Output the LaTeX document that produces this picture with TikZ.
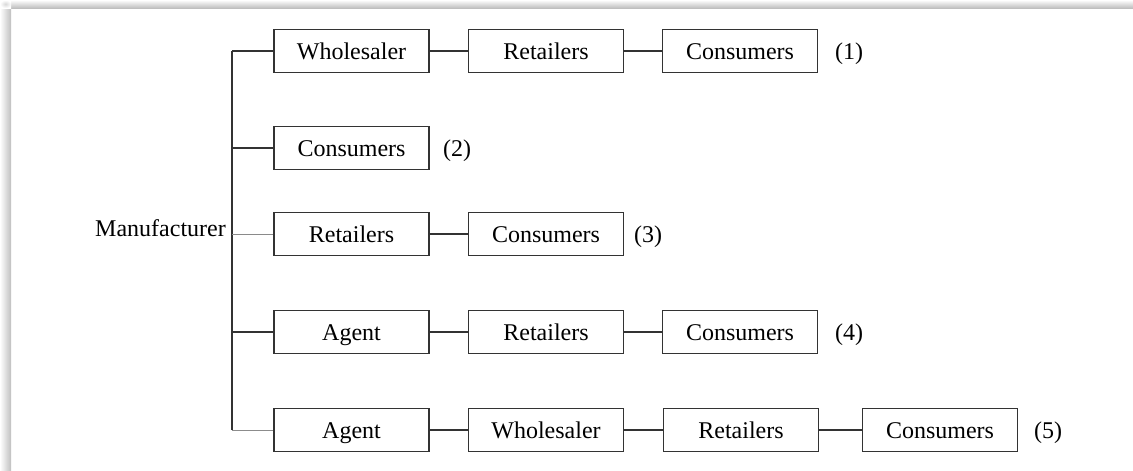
\documentclass[tikz,border=0pt]{standalone}
\usepackage{fontspec}
\setmainfont{Liberation Serif}
\definecolor{ln}{HTML}{333333}
\definecolor{lgray}{HTML}{8A8A8A}
\begin{document}
\begin{tikzpicture}[x=1pt,y=-1pt,
  box/.style={draw=ln,line width=1.1pt,rectangle,minimum width=155pt,minimum height=43pt,inner sep=0pt,text height=16pt,text depth=0pt,font=\fontsize{24}{28}\selectfont},
  lbl/.style={inner sep=0pt,text height=16pt,text depth=0pt,font=\fontsize{24}{28}\selectfont},
  conn/.style={draw=ln,line width=1.1pt},
  thin/.style={draw=lgray,line width=0.6pt}]
\useasboundingbox (0,0) rectangle (1133,471);
% panel shadow
\shade[top color=white,bottom color=black!25] (11,0) rectangle (1133,8);
\shade[left color=white,right color=black!25] (0,8) rectangle (11,471);
\shade[inner color=black!15,outer color=white] (0,0) rectangle (11,8);
% trunk coordinates
\coordinate (t1) at (232,51);
\coordinate (t2) at (232,148);
\coordinate (t3) at (232,234);
\coordinate (t4) at (232,332);
\coordinate (t5) at (232,430);
\node[lbl,anchor=east] (man) at (226,228) {Manufacturer};
% row 1
\node[box] (r1a) at (351.5,51) {Wholesaler};
\node[box] (r1b) at (546,51) {Retailers};
\node[box] (r1c) at (740,51) {Consumers};
\node[lbl,anchor=west] (n1) at (835,51) {(1)};
% row 2
\node[box] (r2a) at (351.5,148) {Consumers};
\node[lbl,anchor=west] (n2) at (443,148) {(2)};
% row 3
\node[box] (r3a) at (351.5,234) {Retailers};
\node[box] (r3b) at (546,234) {Consumers};
\node[lbl,anchor=west] (n3) at (634,234) {(3)};
% row 4
\node[box] (r4a) at (351.5,332) {Agent};
\node[box] (r4b) at (546,332) {Retailers};
\node[box] (r4c) at (740,332) {Consumers};
\node[lbl,anchor=west] (n4) at (835,332) {(4)};
% row 5
\node[box] (r5a) at (351.5,430) {Agent};
\node[box] (r5b) at (546,430) {Wholesaler};
\node[box] (r5c) at (741,430) {Retailers};
\node[box] (r5d) at (940,430) {Consumers};
\node[lbl,anchor=west] (n5) at (1034,430) {(5)};
% connectors
\draw[conn] (t1) -- (t5);
\draw[conn] (t1) -- (r1a.west);
\draw[conn] (t2) -- (r2a.west);
\draw[thin] (t3) -- (r3a.west);
\draw[conn] (t4) -- (r4a.west);
\draw[draw=black!45,line width=0.9pt] (t5) -- (r5a.west);
\draw[conn] (r1a) -- (r1b);
\draw[conn] (r1b) -- (r1c);
\draw[conn] (r3a) -- (r3b);
\draw[conn] (r4a) -- (r4b);
\draw[conn] (r4b) -- (r4c);
\draw[conn] (r5a) -- (r5b);
\draw[conn] (r5b) -- (r5c);
\draw[conn] (r5c) -- (r5d);
\end{tikzpicture}
\end{document}
